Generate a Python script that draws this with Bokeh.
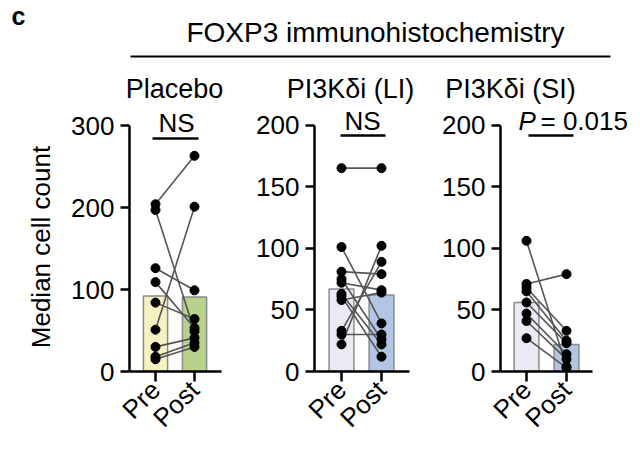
from bokeh.plotting import figure
from bokeh.layouts import column, row
from bokeh.models import Range1d, FixedTicker
from bokeh.embed import file_html
from bokeh.resources import INLINE
from bokeh.core.properties import value
from math import pi

FONT = "Liberation Sans"
FS = "26px"
TEXT_DY = 10  # svg baseline correction (px)

# ---- data ----
groups = ["Pre", "Post"]
header_title = "FOXP3 immunohistochemistry"
panel_titles = ["Placebo", "PI3K\u03b4i (LI)", "PI3K\u03b4i (SI)"]
y_label = "Median cell count"

placebo_pre = [204, 197, 126, 109, 84, 51, 30, 18, 15]
placebo_post = [263, 49, 99, 53, 64, 201, 41, 35, 30]
placebo_bars = [92, 91]

li_pre = [165, 101, 81, 75, 72, 63, 61, 58, 33, 30, 22]
li_post = [165, 39, 79, 26, 66, 22, 12, 64, 89, 30, 102]
li_bars = [67, 62]

si_pre = [106, 71, 68, 65, 56, 47, 41, 27]
si_post = [4, 79, 33, 25, 23, 14, 10, 3]
si_bars = [56, 22]

placebo_ticks = [0, 100, 200, 300]
pi3k_ticks = [0, 50, 100, 150, 200]

placebo_colors = ["#f4f1c3", "#b8d18b"]
pi3k_colors = ["#ece9f5", "#b3c5e4"]

BAR_LINE = "#8a8a8a"
PAIR_LINE = "#555555"

HEADER_H = 104
FRAME_BOTTOM = 371
FRAME_H = FRAME_BOTTOM - HEADER_H
PANEL_H = 458 - HEADER_H


def bare(fig):
    fig.axis.visible = False
    fig.grid.visible = False
    fig.outline_line_color = None
    fig.background_fill_color = None
    fig.border_fill_color = None


def put_text(fig, x, y, text, size=FS, align="center", style="normal", angle=0,
             baseline="alphabetic"):
    fig.text(x=[x], y=[y], text=[text], text_font=value(FONT), text_font_size=size,
             text_font_style=style, text_align=align, text_baseline=baseline,
             text_color="black", angle=angle)


class Panel:
    def __init__(self, pre, post, bars, ticks, colors, fig_w, border_left, frame_w,
                 px_unit, pre_off, axis_len, tick_px, page_left):
        self.x_start = 1 - pre_off / px_unit
        self.px_unit = px_unit
        self.frame_left = page_left + border_left
        x_end = self.x_start + frame_w / px_unit
        axis_end = self.x_start + axis_len / px_unit
        self.upp = ticks[-1] / tick_px          # data units per pixel
        y_end = FRAME_H * self.upp
        p = figure(width=fig_w, height=PANEL_H, output_backend="svg", toolbar_location=None,
                   x_range=Range1d(self.x_start, x_end), y_range=Range1d(0, y_end),
                   min_border_left=border_left,
                   min_border_right=fig_w - border_left - frame_w,
                   min_border_top=0, min_border_bottom=PANEL_H - FRAME_H)
        p.outline_line_color = None
        p.grid.visible = False
        p.background_fill_color = None
        p.border_fill_color = None

        xs = [1, 2]
        p.vbar(x=xs, top=bars, width=0.62, bottom=0, fill_color=colors,
               line_color=BAR_LINE, line_width=1.5)
        p.segment(x0=[1] * len(pre), y0=pre, x1=[2] * len(post), y1=post,
                  line_color=PAIR_LINE, line_width=1.6)
        p.scatter(x=[1] * len(pre), y=pre, size=9, fill_color="black", line_color="black")
        p.scatter(x=[2] * len(post), y=post, size=9, fill_color="black", line_color="black")

        for ax in (p.xaxis[0], p.yaxis[0]):
            ax.axis_line_width = 2.5
            ax.major_tick_line_width = 2.5
            ax.major_tick_in = 0
            ax.minor_tick_line_color = None
            ax.major_label_text_font = FONT
            ax.major_label_text_font_size = FS
            ax.major_label_text_color = "black"
            ax.axis_line_color = "black"
            ax.major_tick_line_color = "black"
        p.xaxis.ticker = FixedTicker(ticks=xs)
        p.xaxis.major_label_overrides = {1: groups[0], 2: groups[1]}
        p.xaxis.major_label_orientation = pi / 4
        p.xaxis.major_tick_out = 10
        p.xaxis.major_label_standoff = 4
        p.xaxis.bounds = (self.x_start, axis_end)
        p.yaxis.ticker = FixedTicker(ticks=ticks)
        p.yaxis.major_tick_out = 9
        p.yaxis.major_label_standoff = 6
        p.yaxis.bounds = (0, ticks[-1])
        self.p = p

    # page pixel -> panel data (annotation placement only)
    def dx(self, px):
        return self.x_start + (px - self.frame_left) / self.px_unit

    def dy(self, py):
        return (FRAME_BOTTOM - py) * self.upp

    def label(self, px, py, text, align="center", style="normal"):
        put_text(self.p, self.dx(px), self.dy(py - TEXT_DY), text, align=align, style=style)

    def rule(self, px0, px1, py):
        self.p.segment(x0=[self.dx(px0)], y0=[self.dy(py)], x1=[self.dx(px1)],
                       y1=[self.dy(py)], line_color="black", line_width=2.5)


# y-axis title strip
YL_W = 60
yl = figure(width=YL_W, height=PANEL_H, output_backend="svg", toolbar_location=None,
            x_range=Range1d(0, YL_W), y_range=Range1d(HEADER_H + PANEL_H, HEADER_H),
            min_border=0, min_border_left=0, min_border_right=0,
            min_border_top=0, min_border_bottom=0)
bare(yl)
put_text(yl, 40, 293, y_label, angle=pi / 2, baseline="middle")

a = Panel(placebo_pre, placebo_post, placebo_bars, placebo_ticks, placebo_colors,
          242 - YL_W, 129 - YL_W, 111, 39, 26, 92, 246, YL_W)
a.label(176, 132, "NS")
a.rule(152, 198, 138)

b = Panel(li_pre, li_post, li_bars, pi3k_ticks, pi3k_colors,
          188, 72, 114, 40, 27, 95, 246.5, 242)
b.label(362, 130, "NS")
b.rule(340, 385, 135)

c = Panel(si_pre, si_post, si_bars, pi3k_ticks, pi3k_colors,
          210, 70, 140, 40, 26, 92, 246.5, 430)
c.label(518, 130, "P", align="left", style="italic")
c.label(540, 130, "= 0.015", align="left")
c.rule(528, 573, 135)

# header strip (page pixel coordinates)
h = figure(width=640, height=HEADER_H, output_backend="svg", toolbar_location=None,
           x_range=Range1d(0, 640), y_range=Range1d(HEADER_H, 0),
           min_border=0, min_border_left=0, min_border_right=0,
           min_border_top=0, min_border_bottom=0)
bare(h)
put_text(h, 11, 23 - 8, "c", size="25px", align="left", style="bold")
put_text(h, 375, 42 - TEXT_DY, header_title, size="28px")
h.segment(x0=[130], y0=[56], x1=[610], y1=[56], line_color="black", line_width=2)
put_text(h, 174, 98 - TEXT_DY, panel_titles[0], size="27px")
put_text(h, 350, 98 - TEXT_DY, panel_titles[1], size="27px")
put_text(h, 510, 98 - TEXT_DY, panel_titles[2], size="27px")

layout = column(h, row(yl, a.p, b.p, c.p, spacing=0), spacing=0)

open("out.html", "w").write(file_html(layout, INLINE))
